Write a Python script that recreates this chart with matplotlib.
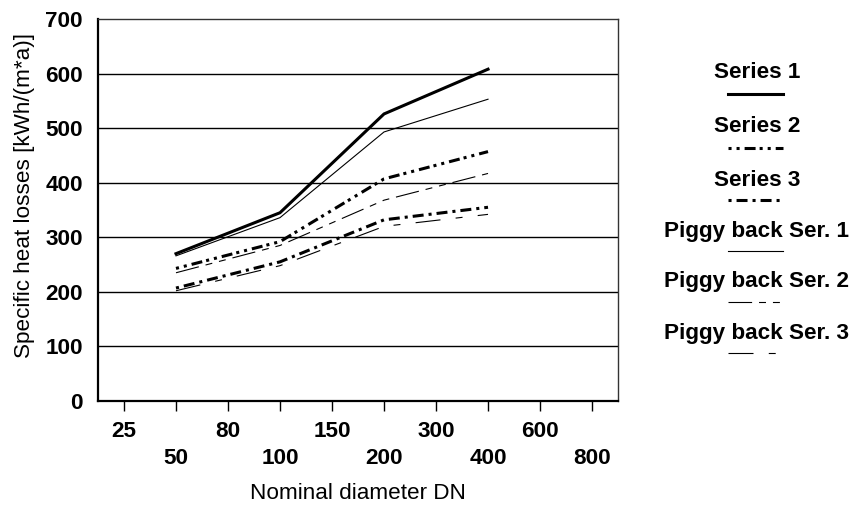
import matplotlib
matplotlib.use("Agg")
import matplotlib.pyplot as plt
from matplotlib.lines import Line2D

plt.rcParams['font.family'] = ['Liberation Sans', 'DejaVu Sans']
plt.rcParams['lines.scale_dashes'] = False

# nominal diameters shown on the x axis
categories = ["25", "50", "80", "100", "150", "200", "300", "400", "600", "800"]
dn_data = ["50", "100", "200", "400"]

series_names = ["Series 1", "Series 2", "Series 3",
                "Piggy back Ser. 1", "Piggy back Ser. 2", "Piggy back Ser. 3"]
series_1 = [270, 345, 526, 608]
series_2 = [243, 292, 407, 457]
series_3 = [207, 255, 332, 355]
piggy_1 = [266, 336, 493, 553]
piggy_2 = [235, 285, 368, 417]
piggy_3 = [202, 248, 320, 342]

# dash patterns in points (pixel lengths * 0.72)
styles = {
    "Series 1": dict(ls="-", lw=2.2),
    "Series 2": dict(ls=(10.8, (7.9, 2.9, 2.2, 3.6, 2.2, 3.6)), lw=2.2),
    "Series 3": dict(ls=(11.5, (7.9, 3.6, 2.2, 3.6)), lw=2.2),
    "Piggy back Ser. 1": dict(ls="-", lw=0.8),
    "Piggy back Ser. 2": dict(ls=(0, (17, 5, 5, 5, 5, 5)), lw=0.8),
    "Piggy back Ser. 3": dict(ls=(0, (18, 11, 5, 11)), lw=0.8),
}
values = dict(zip(series_names, [series_1, series_2, series_3, piggy_1, piggy_2, piggy_3]))

fig = plt.figure(figsize=(8.61, 5.05), dpi=100)
ax = fig.add_axes([0.1138, 0.2059, 0.6040, 0.7565])

xs = [categories.index(d) for d in dn_data]
for name in series_names:
    ax.plot(xs, values[name], color="black", solid_joinstyle="miter",
            dash_capstyle="butt", **styles[name])

fs = 16.2
ax.set_xlim(-0.5, len(categories) - 0.5)
ax.set_ylim(0, 700)
ax.set_yticks(range(0, 701, 100))
ax.set_yticklabels([str(v) for v in range(0, 701, 100)], fontsize=fs, fontweight="bold")
for y in range(100, 700, 100):
    ax.axhline(y, color="black", lw=1, zorder=0)

# two rows of tick labels: upper row for every other diameter
major = list(range(0, len(categories), 2))
minor = list(range(1, len(categories), 2))
ax.set_xticks(major)
ax.set_xticklabels([categories[i] for i in major], fontsize=fs, fontweight="bold")
ax.set_xticks(minor, minor=True)
ax.set_xticklabels([categories[i] for i in minor], minor=True, fontsize=fs, fontweight="bold")
ax.tick_params(axis="x", which="both", direction="out", length=7.5, width=1, color="black")
ax.tick_params(axis="x", which="major", pad=7)
ax.tick_params(axis="x", which="minor", pad=26.5)
ax.tick_params(axis="y", length=0, pad=11)

for side in ["left", "bottom"]:
    ax.spines[side].set_linewidth(1.6)
for side in ["top", "right"]:
    ax.spines[side].set_linewidth(1.0)
    ax.spines[side].set_color("#333333")

ax.set_xlabel("Nominal diameter DN", fontsize=fs)
ax.xaxis.set_label_coords(0.5, -0.241)
ax.xaxis.label.set_va("center")
ax.set_ylabel("Specific heat losses [kWh/(m*a)]", fontsize=fs)
ax.yaxis.set_label_coords(-0.142, 0.537)
ax.yaxis.label.set_va("center")

# legend drawn by hand: label centred above a short line sample
legend_x = 757 / 861
text_y = [72, 126, 180, 232, 282, 333]
line_y = [94, 148, 200, 251, 302, 353]
for name, ty, ly in zip(series_names, text_y, line_y):
    fig.text(legend_x, 1 - ty / 505, name, ha="center", va="center",
             fontsize=fs, fontweight="bold")
    st = styles[name]
    fig.add_artist(Line2D([728 / 861, 783 / 861], [1 - ly / 505] * 2, color="black",
                          linestyle=st["ls"], linewidth=st["lw"], dash_capstyle="butt"))

fig.savefig("out.png", dpi=100)
